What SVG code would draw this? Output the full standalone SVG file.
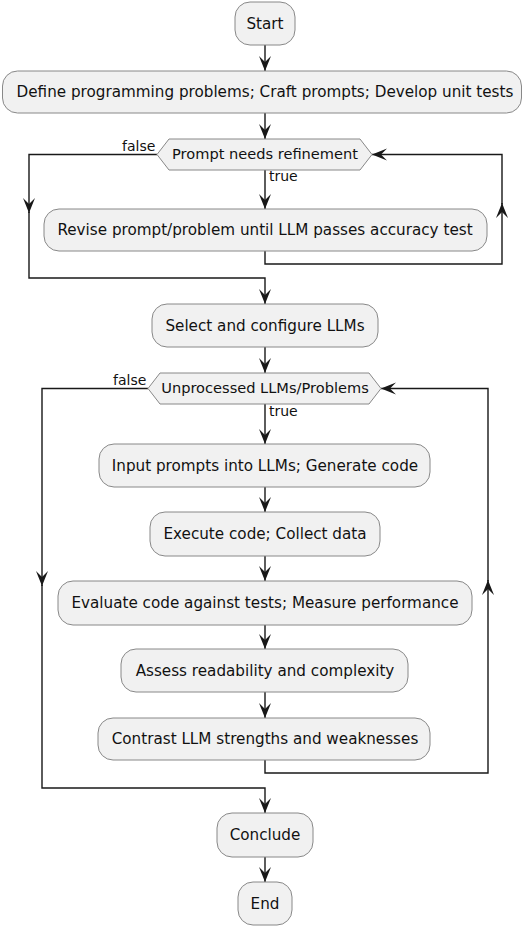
<svg xmlns="http://www.w3.org/2000/svg" width="522" height="926" viewBox="0 0 522 926">
<defs>
<marker id="arr" markerUnits="userSpaceOnUse" markerWidth="16" markerHeight="14" viewBox="0 0 16 14" refX="15" refY="7" orient="auto">
<path d="M0,1 L15,7 L0,13 L6,7 Z" fill="#181818"/>
</marker>
<style>
.box{fill:#F1F1F1;stroke:#888;stroke-width:1}
.t{font-family:"DejaVu Sans",sans-serif;font-size:15.2px;fill:#111;text-anchor:middle}
.d{font-family:"DejaVu Sans",sans-serif;font-size:14.6px;fill:#111;text-anchor:middle}
.l{font-family:"DejaVu Sans",sans-serif;font-size:14px;fill:#111}
.a{fill:none;stroke:#181818;stroke-width:1.4;marker-end:url(#arr)}
</style>
</defs>
<rect width="522" height="926" fill="#fff"/>
<g id="connectors">
<path class="a" d="M265,45 V71"/>
<path class="a" d="M265,113 V139"/>
<path class="a" d="M265,170 V209"/>
<path class="a" d="M157,154.5 H29 V213"/>
<path class="a" d="M29,212 V278 H265 V304"/>
<path class="a" d="M265,251 V264 H502 V203"/>
<path class="a" d="M502,204 V154.5 H372"/>
<path class="a" d="M265,347 V373"/>
<path class="a" d="M265,404 V444"/>
<path class="a" d="M265,487 V512"/>
<path class="a" d="M265,556 V581"/>
<path class="a" d="M265,625 V649"/>
<path class="a" d="M265,692 V718"/>
<path class="a" d="M265,760 V773 H488 V580"/>
<path class="a" d="M488,581 V388.5 H381"/>
<path class="a" d="M148,388.5 H42 V586"/>
<path class="a" d="M42,585 V788 H265 V813"/>
<path class="a" d="M265,857 V882"/>
<text class="l" x="122" y="151">false</text>
<text class="l" x="269" y="181">true</text>
<text class="l" x="113" y="385">false</text>
<text class="l" x="269" y="416">true</text>
</g>
<g id="start"><rect class="box" x="235" y="2" width="60" height="43" rx="15"/><text class="t" x="265" y="29">Start</text></g>
<g id="define"><rect class="box" x="2.5" y="71" width="519" height="42" rx="15"/><text class="t" x="265" y="97">Define programming problems; Craft prompts; Develop unit tests</text></g>
<g id="dec1"><polygon class="box" points="157,154.5 169,139 360,139 372,154.5 360,170 169,170"/><text class="d" x="265" y="159">Prompt needs refinement</text></g>
<g id="revise"><rect class="box" x="44" y="209" width="443" height="42" rx="15"/><text class="t" x="265" y="235">Revise prompt/problem until LLM passes accuracy test</text></g>
<g id="select"><rect class="box" x="152" y="304" width="226" height="43" rx="15"/><text class="t" x="265" y="331">Select and configure LLMs</text></g>
<g id="dec2"><polygon class="box" points="148,388.5 160,373 369,373 381,388.5 369,404 160,404"/><text class="d" x="265" y="393">Unprocessed LLMs/Problems</text></g>
<g id="input"><rect class="box" x="99" y="444" width="331" height="43" rx="15"/><text class="t" x="265" y="471">Input prompts into LLMs; Generate code</text></g>
<g id="execute"><rect class="box" x="150" y="512" width="230" height="44" rx="15"/><text class="t" x="265" y="539">Execute code; Collect data</text></g>
<g id="evaluate"><rect class="box" x="58" y="581" width="414" height="44" rx="15"/><text class="t" x="265" y="608">Evaluate code against tests; Measure performance</text></g>
<g id="assess"><rect class="box" x="121" y="649" width="287" height="43" rx="15"/><text class="t" x="265" y="676">Assess readability and complexity</text></g>
<g id="contrast"><rect class="box" x="98" y="718" width="332" height="42" rx="15"/><text class="t" x="265" y="744">Contrast LLM strengths and weaknesses</text></g>
<g id="conclude"><rect class="box" x="217" y="813" width="96" height="44" rx="15"/><text class="t" x="265" y="840">Conclude</text></g>
<g id="end"><rect class="box" x="238" y="882" width="54" height="43" rx="15"/><text class="t" x="265" y="909">End</text></g>
</svg>
